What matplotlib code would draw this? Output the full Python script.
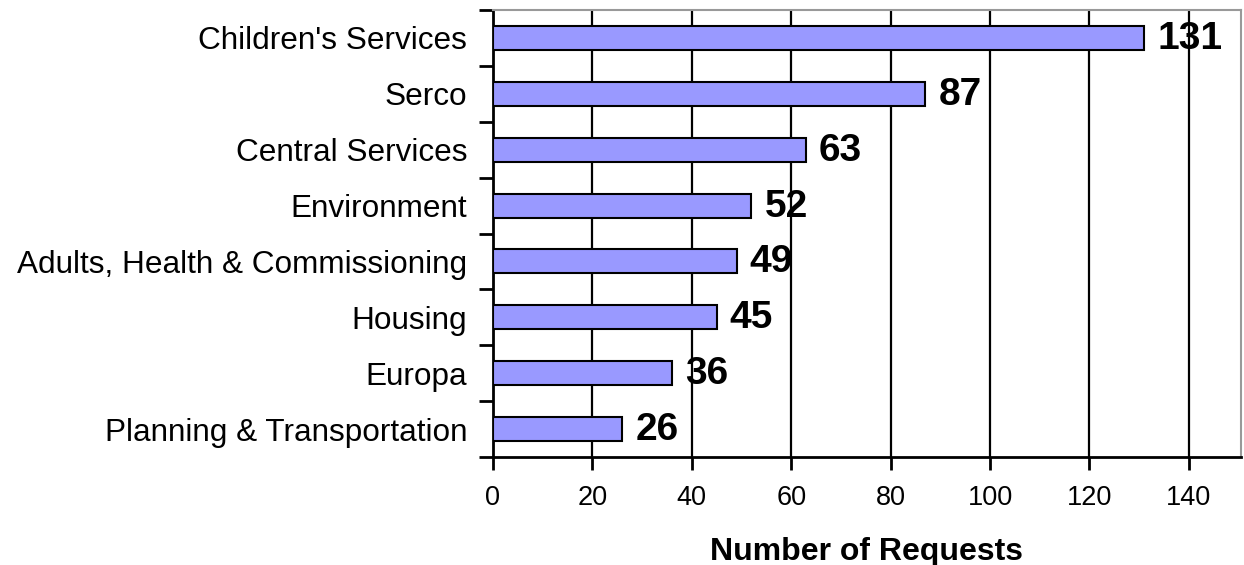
import matplotlib
matplotlib.use("Agg")
import matplotlib.pyplot as plt
import numpy as np

categories = ["Children's Services", "Serco", "Central Services", "Environment",
              "Adults, Health & Commissioning", "Housing", "Europa",
              "Planning & Transportation"]
values = [131, 87, 63, 52, 49, 45, 36, 26]
xticks = [0, 20, 40, 60, 80, 100, 120, 140]

plt.rcParams['font.family'] = ['Liberation Sans', 'DejaVu Sans']

fig = plt.figure(figsize=(12.44, 5.65), dpi=100)
ax = fig.add_axes([493/1244, 1-457/565, (1241-493)/1244, (457-10)/565])

n = len(categories)
ypos = np.arange(n)[::-1]
ax.barh(ypos, values, height=0.43, color='#9999FF', edgecolor='black',
        linewidth=1.5, zorder=3)
for y, v in zip(ypos, values):
    ax.annotate(str(v), xy=(v, y), xytext=(13, -1), textcoords='offset pixels',
                ha='left', va='center', fontsize=28, fontweight='bold', zorder=1)

for xt in xticks[1:]:
    ax.axvline(xt, color='black', linewidth=1.6, zorder=2)

ax.set_xlim(0, 150.5)
ax.set_ylim(-0.5, n - 0.5)
ax.set_xticks(xticks)
ax.set_xticklabels([str(t) for t in xticks], fontsize=19.5)
ax.set_yticks(ypos)
ax.set_yticklabels(categories, fontsize=22.7)
ax.set_yticks(np.arange(n + 1) - 0.5, minor=True)
ax.tick_params(axis='y', which='major', length=0, pad=18.5)
ax.tick_params(axis='y', which='minor', length=10, width=2, direction='out')
ax.tick_params(axis='x', which='major', length=9, width=2, direction='out', pad=11)

for s in ['left', 'bottom']:
    ax.spines[s].set_color('black')
    ax.spines[s].set_linewidth(2)
for s in ['top', 'right']:
    ax.spines[s].set_color('#999999')
    ax.spines[s].set_linewidth(1.5)

ax.set_xlabel('Number of Requests', fontsize=23, fontweight='bold', labelpad=19)

fig.savefig('out.png', dpi=100)
